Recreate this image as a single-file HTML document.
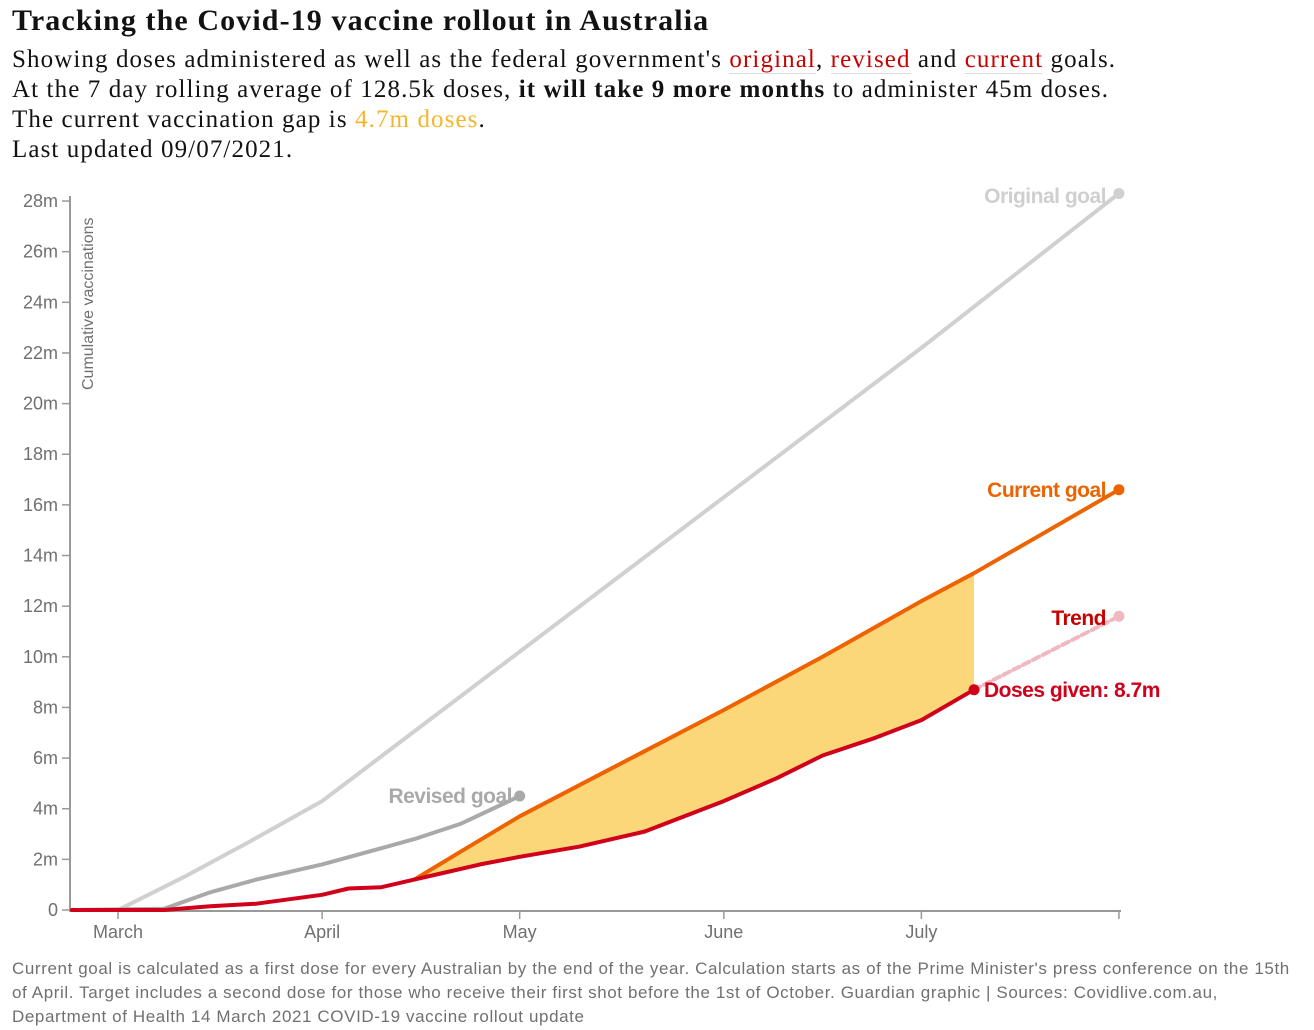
<!DOCTYPE html>
<html><head><meta charset="utf-8">
<style>
body{margin:0;background:#fff;width:1314px;height:1030px;overflow:hidden;position:relative}
.t{position:absolute;left:12px;top:4px;font:bold 30px "Liberation Serif",serif;color:#121212;margin:0;letter-spacing:1.1px}
.s{position:absolute;left:12px;top:45px;font:25px/30px "Liberation Serif",serif;color:#121212;letter-spacing:1.1px;white-space:nowrap}
.r{color:#c70000;border-bottom:1px solid #dcdcdc}
.y{color:#f5b52b}
.f{position:absolute;left:12px;top:957px;width:1295px;font:17px/24px "Liberation Sans",sans-serif;color:#707070;letter-spacing:0.6px}
svg{position:absolute;left:0;top:0}
</style></head><body>
<h1 class="t">Tracking the Covid-19 vaccine rollout in Australia</h1>
<div class="s">Showing doses administered as well as the federal government's <span class="r">original</span>, <span class="r">revised</span> and <span class="r">current</span> goals.<br>At the 7 day rolling average of 128.5k doses, <b>it will take 9 more months</b> to administer 45m doses.<br>The current vaccination gap is <span class="y">4.7m doses</span>.<br>Last updated 09/07/2021.</div>
<svg id="c" width="1314" height="1030"></svg>
<div class="f">Current goal is calculated as a first dose for every Australian by the end of the year. Calculation starts as of the Prime Minister's press conference on the 15th of April. Target includes a second dose for those who receive their first shot before the 1st of October. Guardian graphic | Sources: Covidlive.com.au, Department of Health 14 March 2021 COVID-19 vaccine rollout update</div>
<script>
// days since 1 March, values in millions
const origDays=[-7,0,10,20,31,61,92,122,152];
const origVals=[0,0,1.3,2.7,4.3,10.2,16.3,22.2,28.3];
const revDays=[-7,7,14,21,31,38,45,52,61];
const revVals=[0,0.05,0.7,1.2,1.8,2.3,2.8,3.4,4.5];
const doseDays=[-7,7,14,21,31,35,40,45,50,55,61,70,80,92,100,107,115,122,130];
const doseVals=[0,0,0.15,0.25,0.6,0.85,0.9,1.2,1.5,1.8,2.1,2.5,3.1,4.3,5.2,6.1,6.8,7.5,8.7];
const curDays=[45,52,61,75,92,107,122,130,140,152];
const curVals=[1.2,2.3,3.7,5.6,7.9,10.0,12.2,13.3,14.8,16.6];
const trendDays=[130,152];
const trendVals=[8.7,11.6];
const yTicks=[0,2,4,6,8,10,12,14,16,18,20,22,24,26,28];
const monthLabels=["March","April","May","June","July"];
const monthDays=[0,31,61,92,122];

const X=d=>118+d*6.585, Y=v=>910-v*25.32;
const svg=document.getElementById('c'),NS='http://www.w3.org/2000/svg';
function mk(t,a,p){const e=document.createElementNS(NS,t);for(const k in a)e.setAttribute(k,a[k]);(p||svg).appendChild(e);return e;}
function pts(ds,vs){return ds.map((d,i)=>X(d).toFixed(1)+','+Y(vs[i]).toFixed(1)).join(' ');}
function interp(ds,vs,d){for(let i=1;i<ds.length;i++){if(d<=ds[i]){const t=(d-ds[i-1])/(ds[i]-ds[i-1]);return vs[i-1]+t*(vs[i]-vs[i-1]);}}return vs[vs.length-1];}

let e=mk('line',{x1:70,y1:196,x2:70,y2:912,stroke:'#999','stroke-width':2});

e=mk('line',{x1:70,y1:911,x2:1121,y2:911,stroke:'#999','stroke-width':2});

yTicks.forEach(v=>{
  mk('line',{x1:62,y1:Y(v),x2:70,y2:Y(v),stroke:'#999','stroke-width':1.5});
  const t=mk('text',{x:58,y:Y(v)+6,'text-anchor':'end','font-family':'Liberation Sans,sans-serif','font-size':18,fill:'#707070'});
  t.textContent=v===0?'0':v+'m';
  
  
});
monthDays.forEach((d,i)=>{
  mk('line',{x1:X(d),y1:911,x2:X(d),y2:919,stroke:'#999','stroke-width':1.5});
  const t=mk('text',{x:X(d),y:938,'text-anchor':'middle','font-family':'Liberation Sans,sans-serif','font-size':18,fill:'#707070'});
  t.textContent=monthLabels[i];
  
  
});
mk('line',{x1:X(152),y1:911,x2:X(152),y2:919,stroke:'#999','stroke-width':1.5});
e=mk('text',{x:93,y:390,transform:'rotate(-90 93 390)','font-family':'Liberation Sans,sans-serif','font-size':16,fill:'#707070'});
e.textContent='Cumulative vaccinations';


const gd=[];for(let d=45;d<=130;d++)gd.push(d);
let ap=gd.map(d=>X(d).toFixed(1)+','+Y(interp(curDays,curVals,d)).toFixed(1));
ap=ap.concat(gd.slice().reverse().map(d=>X(d).toFixed(1)+','+Y(interp(doseDays,doseVals,d)).toFixed(1)));
e=mk('polygon',{points:ap.join(' '),fill:'#fbd36b',opacity:0.9});


function series(ds,vs,col,w,name,dash){
  const l=mk('polyline',{points:pts(ds,vs),fill:'none',stroke:col,'stroke-width':w,'stroke-linejoin':'round','stroke-linecap':'round'});
  if(dash)l.setAttribute('stroke-dasharray',dash);
  
  
  const c=mk('circle',{cx:X(ds[ds.length-1]),cy:Y(vs[vs.length-1]),r:5.5,fill:col});
  
  
}
series(origDays,origVals,'#d0d0d0',4,'original-goal-line');
series(revDays,revVals,'#a9a9a9',4,'revised-goal-line');
series(trendDays,trendVals,'#f0b8c0',4,'trend-line','7,4');
series(curDays,curVals,'#ed6300',4,'current-goal-line');
series(doseDays,doseVals,'#d0021b',4,'doses-given-line');

function lab(x,y,txt,col,anchor,name){
  const t=mk('text',{x:x,y:y,'text-anchor':anchor,'font-family':'Liberation Sans,sans-serif','font-size':21,'font-weight':'bold',fill:col,'letter-spacing':'-0.5'});
  t.textContent=txt;
  
  
}
lab(1106,203,'Original goal','#cfcfcf','end','original-goal-label');
lab(512,803,'Revised goal','#a9a9a9','end','revised-goal-label');
lab(1106,497,'Current goal','#ed6300','end','current-goal-label');
lab(1106,625,'Trend','#c70000','end','trend-label');
lab(984,697,'Doses given: 8.7m','#d0021b','start','doses-given-label');
</script>
</body></html>
